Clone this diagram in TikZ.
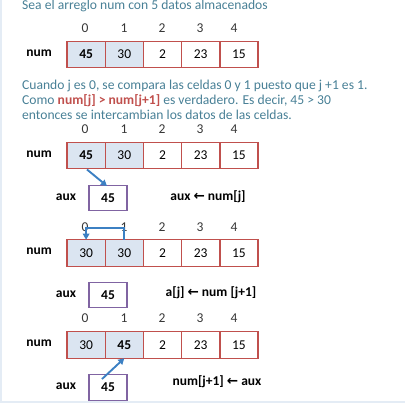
\documentclass[tikz,border=0pt]{standalone}
\usepackage{fontspec}
\setmainfont{Carlito}
\newfontfamily\arrowfont{DejaVu Sans}
\usetikzlibrary{arrows.meta,calc}
\definecolor{cellred}{RGB}{192,80,77}
\definecolor{cellblue}{RGB}{219,229,241}
\definecolor{auxpurple}{RGB}{128,100,162}
\definecolor{arrblue}{RGB}{60,128,195}
\definecolor{tealtext}{RGB}{72,128,150}
\definecolor{idxgray}{RGB}{55,55,55}
\definecolor{edgeblue}{RGB}{228,236,245}
\newcommand{\larr}{{\arrowfont\bfseries ←}}
\tikzset{
  cell/.style={draw=cellred, line width=1.4pt, minimum width=38.2pt, minimum height=26.5pt, inner sep=0pt, outer sep=0pt, font=\fontsize{13.5}{15}\selectfont, text=black},
  hot/.style={cell, fill=cellblue},
  auxbox/.style={draw=auxpurple, line width=1.4pt, minimum width=38pt, minimum height=25.5pt, inner sep=0pt, font=\fontsize{13.5}{15}\selectfont\bfseries},
  lbl/.style={font=\fontsize{13.5}{15}\selectfont\bfseries, inner sep=0pt},
  idx/.style={font=\fontsize{13.5}{15}\selectfont, text=idxgray, inner sep=0pt},
  para/.style={font=\fontsize{13.6}{15}\selectfont, text=tealtext, inner sep=0pt, align=left},
  conn/.style={draw=arrblue, line width=1.9pt, -{Triangle[length=6pt,width=6.5pt]}},
}
\begin{document}
\begin{tikzpicture}[x=1pt,y=-1pt]
\useasboundingbox (0,0) rectangle (405,403);
\fill[edgeblue] (0,0) rectangle (2.2,403);
\fill[edgeblue] (0,401) rectangle (405,403);

% title
\node[para, anchor=west] (title) at (22,6) {Sea el arreglo num con 5 datos almacenados};

% index rows
\foreach \r/\y in {1/28,2/129,3/227,4/318}{
  \foreach \i/\x in {0/85,1/124,2/162,3/200,4/234}{
    \node[idx] (i\r\i) at (\x,\y) {\i};
  }
}

% row 1
\node[lbl] (num1) at (39,53) {num};
\node[hot] (r1c0) at (86.1,54.5) {\bfseries 45};
\node[hot, anchor=west] (r1c1) at (r1c0.east) {30};
\node[cell, anchor=west] (r1c2) at (r1c1.east) {2};
\node[cell, anchor=west] (r1c3) at (r1c2.east) {23};
\node[cell, anchor=west] (r1c4) at (r1c3.east) {15};

% paragraph
\node[para, anchor=north west] (txt) at (22,79.5) {Cuando j es 0, se compara las celdas 0 y 1 puesto que j +1 es 1.\\
Como {\color{cellred}\bfseries num[j] > num[j+1]} es verdadero. Es decir, 45 > 30\\
entonces se intercambian los datos de las celdas.};

% row 2
\node[lbl] (num2) at (39,154) {num};
\node[hot] (r2c0) at (86.1,155.5) {\bfseries 45};
\node[hot, anchor=west] (r2c1) at (r2c0.east) {30};
\node[cell, anchor=west] (r2c2) at (r2c1.east) {2};
\node[cell, anchor=west] (r2c3) at (r2c2.east) {23};
\node[cell, anchor=west] (r2c4) at (r2c3.east) {15};

\node[lbl] (auxl1) at (66,197) {aux};
\node[auxbox] (aux1) at (108,198) {45};
\node[lbl] (st1) at (208,197) {aux \larr\ num[j]};
\draw[conn] (87,169.5) -- (107,186);

% row 3
\node[lbl] (num3) at (39,251) {num};
\node[hot] (r3c0) at (86.1,253) {30};
\node[hot, anchor=west] (r3c1) at (r3c0.east) {30};
\node[cell, anchor=west] (r3c2) at (r3c1.east) {2};
\node[cell, anchor=west] (r3c3) at (r3c2.east) {23};
\node[cell, anchor=west] (r3c4) at (r3c3.east) {15};
\draw[conn] (r3c1.north) -- ++(0,-12) -| (r3c0.north);

% row 4 aux
\node[lbl] (auxl2) at (66,294) {aux};
\node[auxbox] (aux2) at (108,295) {45};
\node[lbl] (st2) at (211,293) {a[j] \larr\ num [j+1]};

% row 4
\node[lbl] (num4) at (39,343) {num};
\node[hot] (r4c0) at (86.1,345) {30};
\node[hot, anchor=west] (r4c1) at (r4c0.east) {\bfseries 45};
\node[cell, anchor=west] (r4c2) at (r4c1.east) {2};
\node[cell, anchor=west] (r4c3) at (r4c2.east) {23};
\node[cell, anchor=west] (r4c4) at (r4c3.east) {15};

\node[lbl] (auxl3) at (66,386) {aux};
\node[auxbox] (aux3) at (108,387.5) {45};
\node[lbl] (st3) at (217,382) {num[j+1] \larr\ aux};
\draw[conn] ([xshift=-6pt,yshift=-5pt]aux3.north) -- (r4c1.south);
\end{tikzpicture}
\end{document}
